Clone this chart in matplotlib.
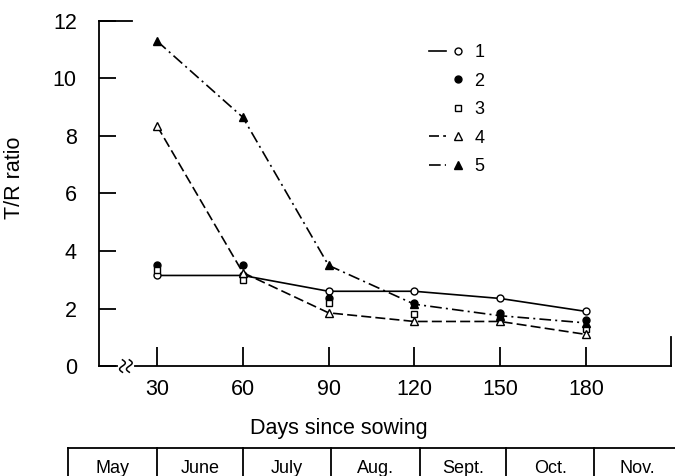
import numpy as np
import matplotlib
matplotlib.use("Agg")
import matplotlib.pyplot as plt
from matplotlib.lines import Line2D
from matplotlib.legend_handler import HandlerLine2D

plt.rcParams['font.family'] = ['Liberation Sans', 'DejaVu Sans']

# data
days = [30, 60, 90, 120, 150, 180]
s1 = [3.15, 3.15, 2.6, 2.6, 2.35, 1.9]
s2 = [3.5, 3.5, 2.35, 2.2, 1.85, 1.6]
s3 = [3.35, 3.0, 2.2, 1.8, 1.7, 1.3]
s4 = [8.35, 3.25, 1.85, 1.55, 1.55, 1.1]
s5 = [11.3, 8.65, 3.5, 2.15, 1.75, 1.5]

months = ['May', 'June', 'July', 'Aug.', 'Sept.', 'Oct.', 'Nov.']
month_start = [-1, 30, 60, 91, 122, 152, 183, 213]

yticks = [0, 2, 4, 6, 8, 10, 12]


class RightMarker(HandlerLine2D):
    # line on the left, marker at the right end of the handle
    def create_artists(self, legend, orig_handle, xdescent, ydescent,
                       width, height, fontsize, trans):
        y = (height - ydescent) / 2
        line = Line2D([-xdescent, -xdescent + 0.55 * width], [y, y])
        self.update_prop(line, orig_handle, legend)
        line.set_marker('None')
        mk = Line2D([-xdescent + 0.9 * width], [y])
        self.update_prop(mk, orig_handle, legend)
        mk.set_linestyle('None')
        line.set_transform(trans)
        mk.set_transform(trans)
        return [line, mk]


fig = plt.figure(figsize=(6.75, 4.76), dpi=100)
ax = fig.add_axes([0.1467, 0.231, 0.847, 0.725])

lw = 1.2
ax.plot(days, s1, '-', color='black', lw=lw, marker='o', ms=5,
        mfc='white', mew=1.0, label='1')
ax.plot(days, s2, ' ', color='black', marker='o', ms=5, mfc='black',
        mew=1.0, label='2')
ax.plot(days, s3, ' ', color='black', marker='s', ms=4.5, mfc='white',
        mew=1.0, label='3')
ax.plot(days, s4, color='black', lw=lw, ls=(0, (6, 2.5)), marker='^', ms=6,
        mfc='white', mew=1.0, label='4')
ax.plot(days, s5, color='black', lw=lw, ls=(0, (7, 2.5, 1.2, 2.5)),
        marker='^', ms=6, mfc='black', mew=1.0, label='5')

ax.set_xlim(9.7, 209.7)
ax.set_ylim(0, 12)
ax.set_xticks(days)
ax.set_yticks(yticks)

for side in ['top', 'right']:
    ax.spines[side].set_visible(False)
for side in ['left', 'bottom']:
    ax.spines[side].set_linewidth(1.3)

ax.tick_params(axis='y', direction='in', length=12, width=1.3, pad=16,
               labelsize=15.5)
ax.tick_params(axis='x', direction='in', length=14, width=1.3, pad=9,
               labelsize=15.5)

# long tick at 12 and end tick at the right of the x axis
ax.plot([0, 0.058], [1, 1], transform=ax.transAxes, color='black',
        lw=1.3, clip_on=False)
ax.plot([1, 1], [0, 0.085], transform=ax.transAxes, color='black',
        lw=1.3, clip_on=False)

# axis break on x axis
ax.plot([0.036, 0.058], [0, 0], transform=ax.transAxes, color='white',
        lw=3, clip_on=False, zorder=5)
t = np.linspace(-1, 1, 30)
for xc in [0.041, 0.053]:
    ax.plot(xc + 0.005 * np.sin(np.pi * t), 0.018 * t,
            transform=ax.transAxes, color='black', lw=1.1,
            clip_on=False, zorder=6)

ax.set_xlabel('Days since sowing', fontsize=15.5)
ax.xaxis.set_label_coords(0.42, -0.15)
ax.set_ylabel('T/R ratio', fontsize=15.5)
ax.yaxis.set_label_coords(-0.129, 0.545)

leg = ax.legend(handler_map={Line2D: RightMarker()}, numpoints=1,
                frameon=False, loc='upper left',
                bbox_to_anchor=(0.548, 0.979), handlelength=1.8,
                handletextpad=0.75, labelspacing=0.63, fontsize=13)

# month table below the axis
trans = ax.get_xaxis_transform()
y_top = -0.238
ax.plot([month_start[0], 240], [y_top, y_top], transform=trans,
        color='black', lw=1.3, clip_on=False)
for x0 in month_start[:-1]:
    ax.plot([x0, x0], [y_top, -0.40], transform=trans, color='black',
            lw=1.3, clip_on=False)
for i, m in enumerate(months):
    xc = (month_start[i] + month_start[i + 1]) / 2
    ax.text(xc, -0.297, m, transform=trans, ha='center', va='center',
            fontsize=13)

fig.savefig('out.png', dpi=100)
